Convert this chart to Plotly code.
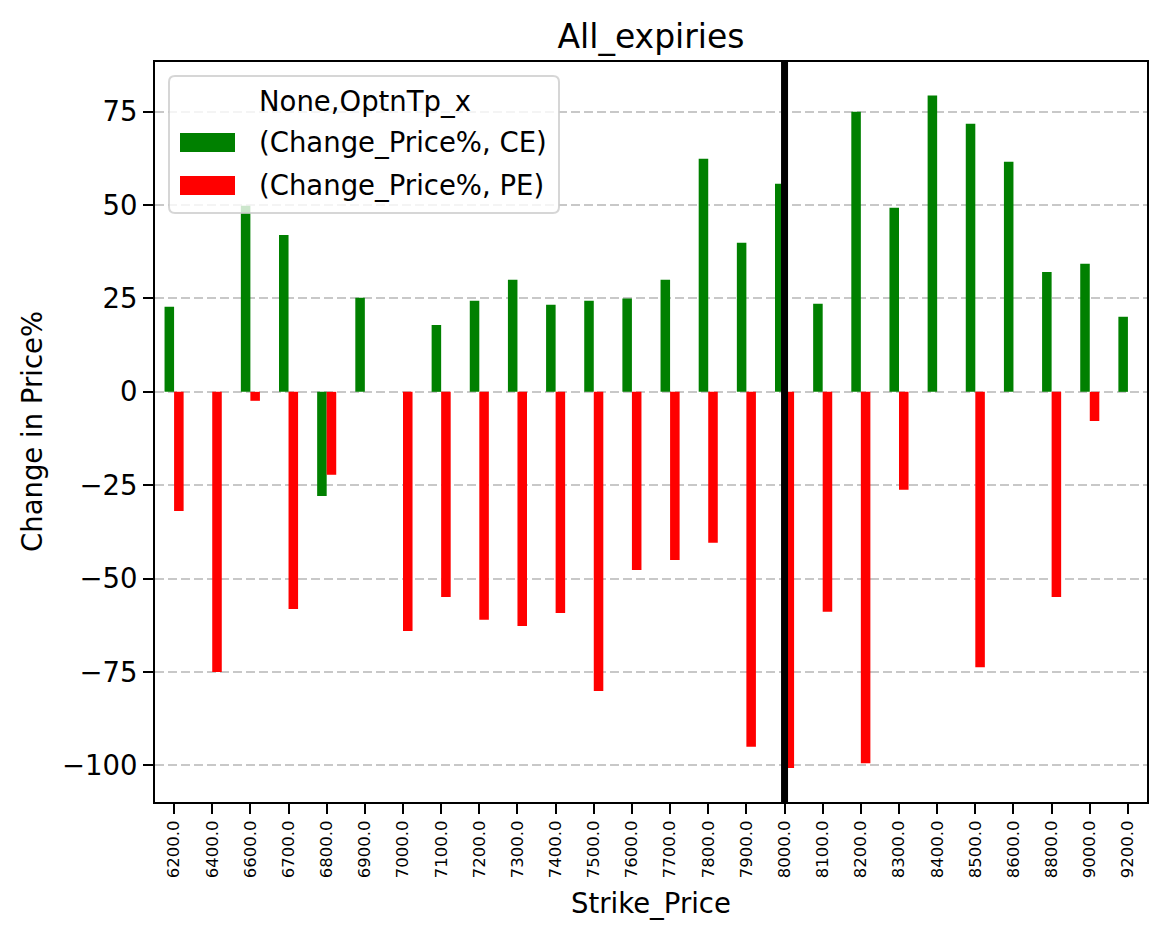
import plotly.graph_objects as go

# ---------------- data ----------------
strikes = [6200, 6400, 6600, 6700, 6800, 6900, 7000, 7100, 7200, 7300, 7400, 7500, 7600,
           7700, 7800, 7900, 8000, 8100, 8200, 8300, 8400, 8500, 8600, 8800, 9000, 9200]
ce_change = [22.8, None, 49.8, 42.0, -27.9, 25.2, None, 17.9, 24.4, 30.0, 23.3, 24.4, 25.0,
             30.0, 62.4, 39.9, 55.7, 23.6, 75.0, 49.3, 79.3, 71.8, 61.6, 32.1, 34.3, 20.1]
pe_change = [-31.9, -75.0, -2.4, -58.1, -22.2, None, -64.0, -54.9, -61.0, -62.7, -59.2, -80.1, -47.7,
             -45.0, -40.4, -95.0, -100.7, -58.9, -99.4, -26.2, None, -73.7, None, -54.9, -7.8, None]
series_names = ["(Change_Price%, CE)", "(Change_Price%, PE)"]
series_colors = ["#008000", "#ff0000"]
legend_title = "None,OptnTp_x"
spot_strike = 8000
y_ticks = [-100, -75, -50, -25, 0, 25, 50, 75]

tick_labels = [f"{s:.1f}" for s in strikes]

# ---------------- layout geometry (pixels) ----------------
W, H = 1166, 939
L, R, T, B = 155, 1147, 62, 802
FONT = "DejaVu Sans"


def px(x):
    return (x - L) / (R - L)


def py(y):
    return (B - y) / (B - T)


fig = go.Figure()
for name, vals, col in zip(series_names, [ce_change, pe_change], series_colors):
    fig.add_trace(go.Bar(x=tick_labels, y=vals, name=name, marker_color=col,
                         marker_line_width=0, showlegend=False))

# vertical line at spot strike
spot_idx = strikes.index(spot_strike)
fig.add_shape(type="line", xref="x", yref="paper", x0=spot_idx, x1=spot_idx, y0=0, y1=1,
              line=dict(color="black", width=7), layer="above")

# ---------------- manual legend ----------------
def rounded_path(x0, y0, x1, y1, r):
    rx = r / (R - L)
    ry = r / (B - T)
    a, b, c, d = px(x0), py(y1), px(x1), py(y0)  # left, bottom, right, top (paper)
    return (f"M{a+rx},{b} L{c-rx},{b} Q{c},{b} {c},{b+ry} L{c},{d-ry} Q{c},{d} {c-rx},{d} "
            f"L{a+rx},{d} Q{a},{d} {a},{d-ry} L{a},{b+ry} Q{a},{b} {a+rx},{b} Z")


fig.add_shape(type="path", xref="paper", yref="paper",
              path=rounded_path(169, 76, 559, 213, 6),
              fillcolor="rgba(255,255,255,0.8)", line=dict(color="rgba(204,204,204,0.8)", width=2),
              layer="above")
fig.add_annotation(xref="paper", yref="paper", x=px(364.5), y=py(101), text=legend_title,
                   showarrow=False, xanchor="center", yanchor="middle",
                   font=dict(family=FONT, size=27.5, color="black"))
entry_y = [142.5, 185.5]
for name, col, ey in zip(series_names, series_colors, entry_y):
    fig.add_shape(type="rect", xref="paper", yref="paper",
                  x0=px(180), x1=px(235), y0=py(ey + 9.5), y1=py(ey - 9.5),
                  fillcolor=col, line=dict(width=0), layer="above")
    fig.add_annotation(xref="paper", yref="paper", x=px(257), y=py(ey), text=name,
                       showarrow=False, xanchor="left", yanchor="middle",
                       font=dict(family=FONT, size=27.5, color="black"))

# axis titles
fig.add_annotation(xref="paper", yref="paper", x=0.5, y=py(903), text="Strike_Price",
                   showarrow=False, xanchor="center", yanchor="middle",
                   font=dict(family=FONT, size=27.5, color="black"))
fig.add_annotation(xref="paper", yref="paper", x=px(32), y=0.5, text="Change in Price%",
                   showarrow=False, xanchor="center", yanchor="middle", textangle=-90,
                   font=dict(family=FONT, size=27.5, color="black"))

fig.update_layout(
    width=W, height=H,
    margin=dict(l=L, r=W - R, t=T, b=H - B, pad=0),
    paper_bgcolor="white", plot_bgcolor="white",
    barmode="group", bargap=0.5, bargroupgap=0,
    font=dict(family=FONT, color="black"),
    title=dict(text="All_expiries", x=0.5, xref="paper", y=1 - 36 / H, yref="container",
               xanchor="center", yanchor="middle", font=dict(family=FONT, size=33, color="black")),
    showlegend=False,
)
fig.update_xaxes(
    type="category", range=[-0.5, len(strikes) - 0.5],
    showline=True, mirror=True, linecolor="black", linewidth=2,
    ticks="outside", ticklen=10, tickwidth=2, tickcolor="black",
    tickangle=-90, tickfont=dict(family=FONT, size=16.5, color="black"),
    showgrid=False, zeroline=False,
)
fig.update_yaxes(
    range=[-109.8, 88.3], tickvals=y_ticks,
    showline=True, mirror=True, linecolor="black", linewidth=2,
    ticks="outside", ticklen=10, tickwidth=2, tickcolor="black",
    tickfont=dict(family=FONT, size=27.5, color="black"),
    showgrid=True, gridcolor="rgba(176,176,176,0.7)", gridwidth=2, griddash="9px,4px",
    zeroline=False,
)

fig.write_html("out.html")
